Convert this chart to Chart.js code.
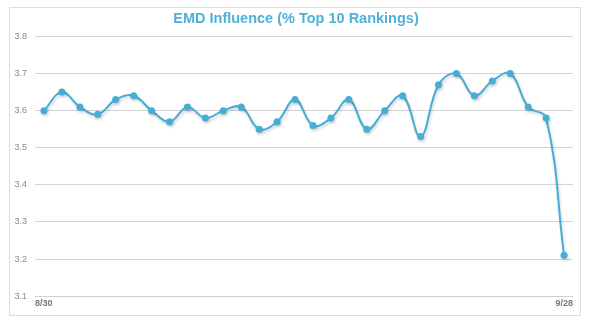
<!DOCTYPE html>
<html>
<head>
<meta charset="utf-8">
<script src="https://cdn.jsdelivr.net/npm/chart.js@4/dist/chart.umd.min.js"></script>
<style>
  html, body { margin: 0; padding: 0; background: #fff; }
  #wrap { position: relative; width: 592px; height: 329px; }
  #frame { position: absolute; left: 9px; top: 7px; width: 570px; height: 307px; border: 1px solid #dcdcdc; pointer-events: none; }
  canvas { position: absolute; left: 0; top: 0; }
</style>
</head>
<body>
<div id="wrap">
  <canvas id="c" width="592" height="329"></canvas>
  <div id="frame"></div>
</div>
<script>
// Daily dates, 8/30 through 9/28
const dates = [
  '8/30','8/31','9/1','9/2','9/3','9/4','9/5','9/6','9/7','9/8',
  '9/9','9/10','9/11','9/12','9/13','9/14','9/15','9/16','9/17','9/18',
  '9/19','9/20','9/21','9/22','9/23','9/24','9/25','9/26','9/27','9/28'
];
// Influence value per day
const influence = [
  3.60, 3.65, 3.61, 3.59, 3.63, 3.64, 3.60, 3.57, 3.61, 3.58,
  3.60, 3.61, 3.55, 3.57, 3.63, 3.56, 3.58, 3.63, 3.55, 3.60,
  3.64, 3.53, 3.67, 3.70, 3.64, 3.68, 3.70, 3.61, 3.58, 3.21
];
const yTicks = [3.1, 3.2, 3.3, 3.4, 3.5, 3.6, 3.7, 3.8];
const titleText = 'EMD Influence (% Top 10 Rankings)';

const blue = '#46aed6';

// soft shadow under the line
const shadow = {
  id: 'lineShadow',
  beforeDatasetsDraw(chart) {
    const ctx = chart.ctx;
    ctx.save();
    ctx.shadowColor = 'rgba(0,0,0,0.18)';
    ctx.shadowBlur = 3;
    ctx.shadowOffsetX = 1;
    ctx.shadowOffsetY = 2;
  },
  afterDatasetsDraw(chart) { chart.ctx.restore(); }
};

new Chart(document.getElementById('c'), {
  type: 'line',
  data: {
    labels: dates,
    datasets: [{
      data: influence,
      borderColor: blue,
      backgroundColor: blue,
      borderWidth: 2,
      pointRadius: 3.5,
      pointBackgroundColor: blue,
      pointBorderWidth: 0,
      tension: 0.4,
      fill: false
    }]
  },
  options: {
    responsive: false,
    animation: false,
    devicePixelRatio: 1,
    layout: { padding: { left: 0, right: 0, top: 3, bottom: 18 } },
    plugins: {
      legend: { display: false },
      tooltip: { enabled: false },
      title: {
        display: true,
        text: titleText,
        color: '#4fb1d8',
        font: { family: 'Liberation Sans, Arial, sans-serif', size: 14.5, weight: 'bold' },
        padding: { top: 7, bottom: 9 }
      }
    },
    scales: {
      x: {
        display: false,
        offset: true
      },
      x2: {
        type: 'category',
        position: 'bottom',
        labels: dates,
        offset: false,
        grid: { display: false, drawTicks: false },
        border: { display: false },
        ticks: {
          autoSkip: false,
          maxRotation: 0,
          align: 'inner',
          padding: 2,
          color: '#777',
          font: { family: 'Liberation Sans, Arial, sans-serif', size: 9, weight: 'bold' },
          callback: function(v, i) {
            return (i === 0 || i === dates.length - 1) ? dates[i] : '';
          }
        }
      },
      y: {
        min: yTicks[0],
        max: yTicks[yTicks.length - 1],
        afterBuildTicks: function(axis) { axis.ticks = yTicks.map(v => ({ value: v })); },
        afterFit: function(axis) { axis.width = 35; },
        grid: {
          drawTicks: false,
          lineWidth: 1,
          color: function(ctx) { return ctx.tick && ctx.tick.value === 3.1 ? '#c9d2de' : '#d4d4d4'; }
        },
        border: { display: false },
        ticks: {
          padding: 8,
          color: '#8a8a8a',
          font: { family: 'Liberation Sans, Arial, sans-serif', size: 9 },
          callback: function(v) { return Number(v).toFixed(1); }
        }
      },
      // empty right-hand margin axis so the title stays centred on the page
      yR: {
        position: 'right',
        min: yTicks[0],
        max: yTicks[yTicks.length - 1],
        grid: { display: false, drawTicks: false },
        border: { display: false },
        ticks: { display: false },
        afterFit: function(axis) { axis.width = 19; }
      }
    }
  },
  plugins: [shadow]
});
</script>
</body>
</html>
